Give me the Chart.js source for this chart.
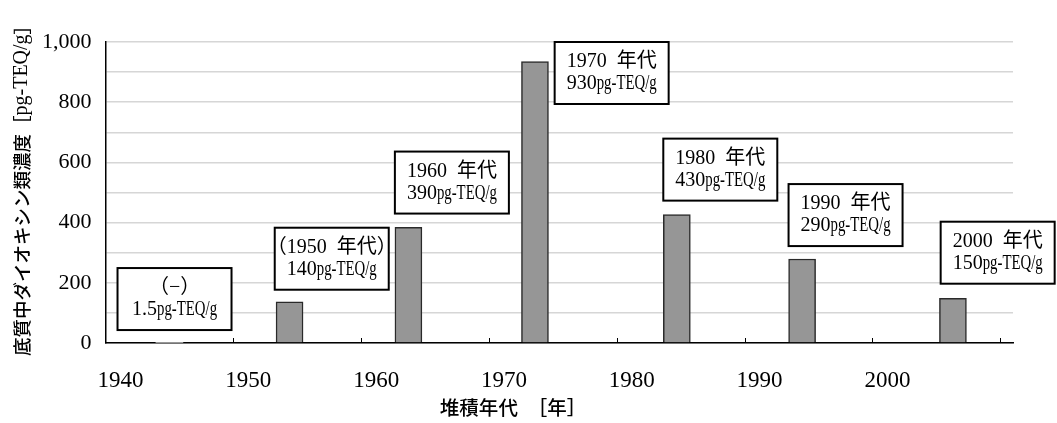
<!DOCTYPE html>
<html>
<head>
<meta charset="utf-8">
<script src="https://cdn.jsdelivr.net/npm/chart.js"></script>
<style>
  html, body { margin: 0; padding: 0; background: #fff; }
  #wrap { width: 1057px; height: 423px; position: relative; }
</style>
</head>
<body>
<div id="wrap"><canvas id="dioxinChart"></canvas></div>
<script>
// bar positions (year) and concentrations
const years = [1945, 1954.4, 1963.7, 1973.6, 1984.7, 1994.5, 2006.3];
const concentrations = [1.5, 137, 384, 935, 427, 279, 148];

// text in the boxes
const decadeLabels = ["（−）", "（1950 年代）", "1960 年代", "1970 年代", "1980 年代", "1990 年代", "2000 年代"];
const valueLabels = ["1.5", "140", "390", "930", "430", "290", "150"];
const unitLabel = "pg-TEQ/g";

const xTickLabels = [1940, 1950, 1960, 1970, 1980, 1990, 2000];
const yTickLabels = [0, 200, 400, 600, 800, 1000];

// where each box sits, in axis units (layout only)
const boxAtYear = [1945.4, 1957.7, 1967.1, 1979.6, 1988.1, 1997.9, 2009.8];
const boxAtLevel = [146, 280, 533, 897, 576, 425, 300];

const serif = "'Liberation Serif', 'Noto Sans CJK JP', serif";
const gothic = "'Noto Sans CJK JP', sans-serif";

const boxPlugin = {
  id: "decadeBoxes",
  afterDatasetsDraw(chart) {
    const ctx = chart.ctx;
    const x = chart.scales.x, y = chart.scales.y;
    ctx.save();
    // tick marks pointing into the plot
    ctx.strokeStyle = "#000";
    ctx.lineWidth = 1;
    x.ticks.forEach(function (t) {
      if (t.value === 1940) return;
      const px = Math.round(x.getPixelForValue(t.value)) + 0.5;
      ctx.beginPath();
      ctx.moveTo(px, y.bottom);
      ctx.lineTo(px, y.bottom - 5);
      ctx.stroke();
    });
    decadeLabels.forEach(function (txt, i) {
      const cx = x.getPixelForValue(boxAtYear[i]);
      const cy = y.getPixelForValue(boxAtLevel[i]);
      const w = 114, h = 62;
      ctx.fillStyle = "#fff";
      ctx.fillRect(cx - w / 2, cy - h / 2, w, h);
      ctx.lineWidth = 2;
      ctx.strokeStyle = "#000";
      ctx.strokeRect(cx - w / 2, cy - h / 2, w, h);
      ctx.fillStyle = "#000";
      ctx.font = "20px " + serif;
      ctx.textAlign = "center";
      ctx.textBaseline = "middle";
      ctx.fillText(txt.replace(" ", "\u2002"), cx, cy - 11);
      const numW = ctx.measureText(valueLabels[i]).width;
      const sx = 0.74;
      const unitW = ctx.measureText(unitLabel).width * sx;
      const left = cx - (numW + unitW) / 2;
      ctx.textAlign = "left";
      ctx.fillText(valueLabels[i], left, cy + 11);
      ctx.save();
      ctx.translate(left + numW, cy + 11);
      ctx.scale(sx, 1);
      ctx.fillText(unitLabel, 0, 0);
      ctx.restore();
    });
    ctx.restore();
  },
  afterDraw(chart) {
    const ctx = chart.ctx;
    ctx.save();
    ctx.fillStyle = "#000";
    ctx.textBaseline = "middle";
    // y axis title, rotated
    ctx.translate(22, 356);
    ctx.rotate(-Math.PI / 2);
    ctx.textAlign = "left";
    ctx.font = "500 18.5px " + gothic;
    const jp = "底質中ダイオキシン類濃度";
    ctx.fillText(jp, 0, 0);
    let pos = ctx.measureText(jp).width;
    ctx.fillText("［", pos, 0);
    pos += ctx.measureText("［").width;
    ctx.font = "20px " + serif;
    ctx.fillText(unitLabel, pos, 0);
    pos += ctx.measureText(unitLabel).width;
    ctx.font = "500 18.5px " + gothic;
    ctx.fillText("］", pos, 0);
    ctx.restore();
    // x axis title
    ctx.save();
    ctx.fillStyle = "#000";
    ctx.font = "500 19.5px " + gothic;
    ctx.textAlign = "center";
    ctx.textBaseline = "middle";
    ctx.fillText("堆積年代　［年］", 513, 408);
    ctx.restore();
  }
};

const ctx = document.getElementById("dioxinChart").getContext("2d");

const chart = new Chart(ctx, {
  type: "bar",
  data: {
    datasets: [
      {
        data: years.map(function (yr, i) { return { x: yr, y: concentrations[i] }; }),
        backgroundColor: "#969696",
        borderColor: "#2a2a2a",
        borderWidth: function (c) { return c.raw && c.raw.y < 5 ? 0 : 1.5; },
        barThickness: 27,
      },
    ],
  },
  options: {
    responsive: true,
    maintainAspectRatio: false,
    animation: false,
    layout: { padding: { top: 42, right: 44, left: 0, bottom: 0 } },
    plugins: {
      legend: { display: false },
      tooltip: { enabled: false },
    },
    scales: {
      x: {
        type: "linear",
        offset: false,
        min: 1940,
        max: 2011,
        afterFit: function (s) { s.height = 80; },
        ticks: {
          stepSize: 10,
          includeBounds: false,
          autoSkip: false,
          maxRotation: 0,
          labelOffset: 15,
          padding: 24,
          color: "#000",
          font: { family: serif, size: 23 },
          callback: function (v) { return xTickLabels.indexOf(v) >= 0 ? String(v) : ""; },
        },
        grid: { display: true, drawOnChartArea: false, drawTicks: false },
        border: { display: true, color: "#000", width: 1.5 },
      },
      y: {
        min: 0,
        max: 1000,
        afterFit: function (s) { s.width = 105.5; },
        ticks: {
          stepSize: 100,
          padding: 14,
          color: "#000",
          font: { family: serif, size: 22 },
          callback: function (v) { return yTickLabels.indexOf(v) >= 0 ? v.toLocaleString("en-US") : ""; },
        },
        grid: { color: "#d6d6d6", lineWidth: 1.5, drawTicks: false },
        border: { display: true, color: "#000", width: 1.5 },
      },
    },
  },
  plugins: [boxPlugin],
});
</script>
</body>
</html>
